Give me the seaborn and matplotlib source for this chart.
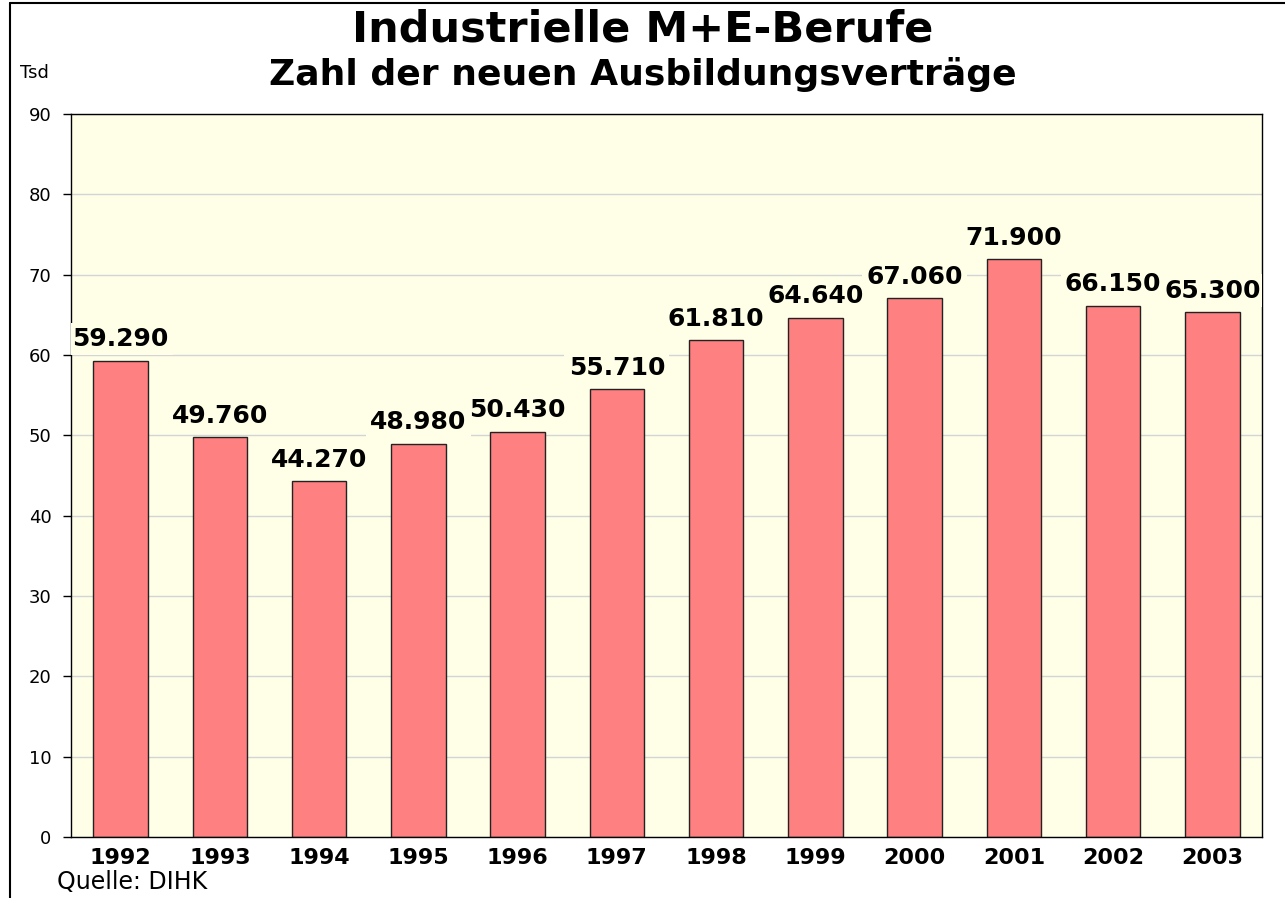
import numpy as np
import pandas as pd
import matplotlib
matplotlib.use("Agg")
import matplotlib.pyplot as plt
from matplotlib.lines import Line2D
import seaborn as sns

# ---------------- DATA ----------------

years = ["1992", "1993", "1994", "1995", "1996", "1997",
         "1998", "1999", "2000", "2001", "2002", "2003"]
contracts = [59290, 49760, 44270, 48980, 50430, 55710,
             61810, 64640, 67060, 71900, 66150, 65300]
y_ticks = [0, 10, 20, 30, 40, 50, 60, 70, 80, 90]

title = "Industrielle M+E-Berufe"
subtitle = "Zahl der neuen Ausbildungsverträge"
unit_label = "Tsd"
source = "Quelle: DIHK"

BAR_COLOR = "#FF8080"
PLOT_BG = "#FFFFE8"

df = pd.DataFrame({"Jahr": years, "Tsd": [c / 1000 for c in contracts]})

# ---------------- PLOT ----------------

sns.set_style("white")
plt.rcParams["font.family"] = ["DejaVu Sans"]
plt.rcParams["text.color"] = "black"
plt.rcParams["xtick.color"] = "black"
plt.rcParams["ytick.color"] = "black"

fig = plt.figure(figsize=(12.85, 8.98), dpi=100)
ax = fig.add_axes([71 / 1285, 61 / 898, (1262 - 71) / 1285, (837 - 114) / 898])
ax.set_facecolor(PLOT_BG)

sns.barplot(data=df, x="Jahr", y="Tsd", color=BAR_COLOR, saturation=1,
            width=0.55, edgecolor="#222222", linewidth=1.0, ax=ax, zorder=2)

ax.set_ylim(0, 90)
ax.set_xlim(-0.5, len(years) - 0.5)
ax.set_yticks(y_ticks)
ax.yaxis.grid(True, color="#D4D4D4", linewidth=1.0, zorder=0)
ax.set_axisbelow(True)

# category labels centred, tick marks between categories
ax.set_xticks(range(len(years)))
ax.set_xticklabels(years, fontsize=16, fontweight="bold")
ax.set_xticks(np.arange(-0.5, len(years), 1.0), minor=True)
ax.tick_params(axis="x", which="major", length=0, pad=8)
ax.tick_params(axis="x", which="minor", length=6, width=1, direction="out")
ax.tick_params(axis="y", length=6, width=1, direction="out", pad=8, labelsize=13)
ax.tick_params(left=True, bottom=True)
ax.set_xlabel("")
ax.set_ylabel("")

for side in ["left", "bottom", "top", "right"]:
    ax.spines[side].set_visible(True)
    ax.spines[side].set_color("black")
    ax.spines[side].set_linewidth(1.0)

# value labels above bars (German thousands separator)
for i, c in enumerate(contracts):
    txt = f"{c:,}".replace(",", ".")
    ax.annotate(txt, (i, c / 1000), xytext=(0, 7), textcoords="offset points",
                ha="center", va="bottom", fontsize=18, fontweight="bold",
                color="black", clip_on=True,
                bbox=dict(facecolor=PLOT_BG, edgecolor="none", pad=3), zorder=3)

# ---------------- TEXT ----------------

fig.text(0.5, 1 - 29 / 898, title, ha="center", va="center", fontsize=31, fontweight="bold")
fig.text(0.5, 1 - 74 / 898, subtitle, ha="center", va="center", fontsize=26, fontweight="bold")
fig.text(20 / 1285, 1 - 73 / 898, unit_label, ha="left", va="center", fontsize=13)
fig.text(57 / 1285, 1 - 882 / 898, source, ha="left", va="center", fontsize=17)

# outer frame (left and top edges visible)
fig.add_artist(Line2D([10 / 1285, 10 / 1285], [0, 1 - 3 / 898], color="black", linewidth=1.5))
fig.add_artist(Line2D([10 / 1285, 1.0], [1 - 3 / 898, 1 - 3 / 898], color="black", linewidth=1.5))

plt.savefig("out.png", dpi=100)
